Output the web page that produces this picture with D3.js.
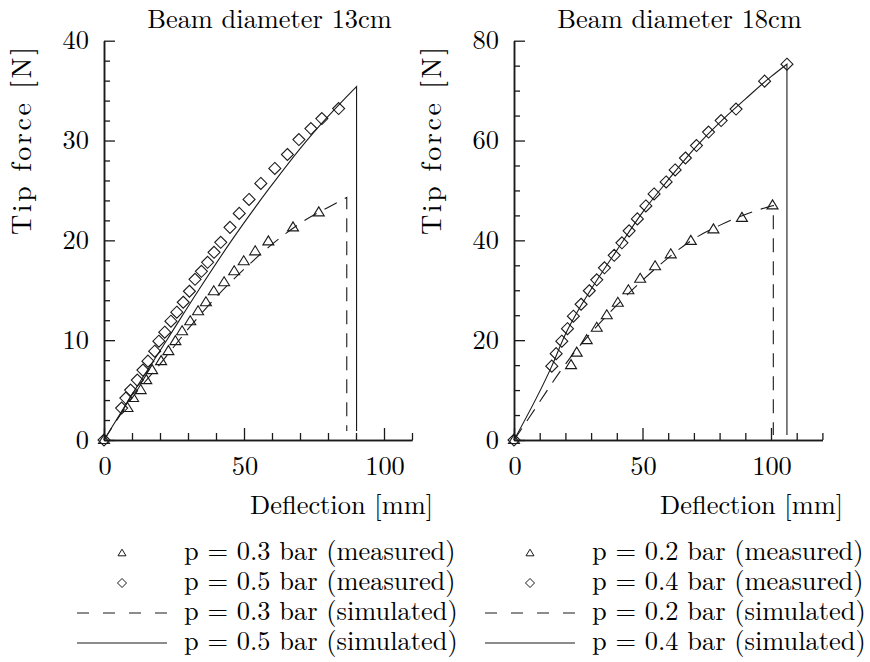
<!DOCTYPE html>
<html>
<head>
<meta charset="utf-8">
<script src="https://cdn.jsdelivr.net/npm/d3@7"></script>
<style>
  html, body { margin: 0; padding: 0; background: #ffffff; }
  svg { display: block; }
</style>
</head>
<body>
<script>
// ---------------- DATA ----------------
const titles = ["Beam diameter 13cm", "Beam diameter 18cm"];
const yLabel = "Tip force [N]";
const xLabel = "Deflection [mm]";

// Tick values
const xTicksMajor13 = [0, 50, 100];
const xTicksMinor13 = [10, 20, 30, 40, 60, 70, 80, 90, 110];
const yTicksMajor13 = [0, 10, 20, 30, 40];
const yTicksMinor13 = [2, 4, 6, 8, 12, 14, 16, 18, 22, 24, 26, 28, 32, 34, 36, 38];
const xTicksMajor18 = [0, 50, 100];
const xTicksMinor18 = [10, 20, 30, 40, 60, 70, 80, 90, 110, 120];
const yTicksMajor18 = [0, 20, 40, 60, 80];
const yTicksMinor18 = [5, 10, 15, 25, 30, 35, 45, 50, 55, 65, 70, 75];

// 13 cm beam: p = 0.3 bar measured (triangles)
const tri13X = [0, 8.4, 10.4, 13.1, 15.1, 17.2, 20.4, 23.0, 25.5, 27.9, 30.8, 33.6, 36.4, 39.2, 42.9, 46.5, 49.9, 54.0, 58.7, 67.5, 76.7];
const tri13Y = [0, 3.2, 4.2, 5.0, 6.0, 7.0, 7.9, 8.9, 9.9, 10.9, 11.9, 12.9, 13.8, 14.9, 15.8, 16.9, 17.9, 18.9, 19.9, 21.3, 22.8];
// 13 cm beam: p = 0.5 bar measured (diamonds)
const dia13X = [0, 6.3, 7.8, 9.5, 11.9, 13.9, 15.7, 18.1, 19.6, 21.7, 23.9, 26.0, 28.3, 30.5, 32.5, 34.8, 37.0, 39.3, 41.7, 45.0, 48.3, 51.8, 56.0, 61.0, 65.5, 69.6, 73.9, 77.8, 83.8];
const dia13Y = [0, 3.2, 4.2, 5.0, 6.0, 7.0, 7.9, 8.9, 9.9, 10.8, 11.9, 12.8, 13.8, 14.9, 16.1, 16.9, 17.8, 18.8, 19.8, 21.3, 22.7, 24.1, 25.7, 27.2, 28.6, 30.1, 31.2, 32.2, 33.2];
// 13 cm beam: p = 0.3 bar simulated (dashed)
const sim03X = [0, 10, 20, 30, 40, 50, 60, 70, 80, 86.7];
const sim03Y = [0, 4.2, 7.6, 11.1, 14.3, 17.1, 19.6, 21.7, 23.3, 24.3];
const sim03EndY = 0.9;
// 13 cm beam: p = 0.5 bar simulated (solid)
const sim05X = [0, 11, 22.4, 34, 45.6, 59, 72.4, 86, 90.2];
const sim05Y = [0, 5.0, 10, 15.1, 20, 25.2, 30, 34.2, 35.4];
const sim05EndY = 0.9;

// 18 cm beam: p = 0.2 bar measured (triangles)
const tri18X = [0, 22.2, 24.4, 28.3, 32.2, 36.1, 40.4, 44.5, 49.1, 54.9, 61.0, 68.8, 77.6, 88.7, 100.6];
const tri18Y = [0, 15.0, 17.5, 20.0, 22.5, 25.0, 27.5, 30.0, 32.3, 34.8, 37.2, 39.9, 42.2, 44.5, 47.0];
// 18 cm beam: p = 0.4 bar measured (diamonds)
const dia18X = [0, 14.7, 16.4, 18.6, 20.8, 23.1, 26.1, 29.3, 32.2, 35.2, 39.0, 42.0, 44.8, 48.0, 51.3, 54.5, 59.2, 62.7, 66.7, 71.0, 75.7, 80.6, 86.4, 97.5, 106.2];
const dia18Y = [0, 14.8, 17.3, 19.8, 22.3, 24.8, 27.2, 29.9, 32.1, 34.5, 37.0, 39.5, 41.9, 44.3, 46.9, 49.3, 51.7, 54.1, 56.5, 59.0, 61.7, 64.0, 66.3, 71.9, 75.3];
// 18 cm beam: p = 0.2 bar simulated (dashed)
const sim02X = [0, 6.2, 12.1, 17.9, 25, 30, 40, 50, 60, 70, 80, 90, 100.9];
const sim02Y = [0, 4.7, 9.3, 13.7, 18.5, 21.5, 27.0, 32.0, 36.5, 40.3, 43.0, 45.2, 47.0];
const sim02EndY = 1.0;
// 18 cm beam: p = 0.4 bar simulated (solid)
const sim04X = [0, 14.7, 20, 25, 30, 40, 50, 60, 70, 80, 90, 100, 106.2];
const sim04Y = [0, 14.8, 21.2, 26.0, 30.2, 38.0, 45.6, 52.1, 58.3, 63.6, 68.3, 72.8, 75.3];
const sim04EndY = 1.0;

// Legend labels
const legend13 = ["p = 0.3 bar (measured)", "p = 0.5 bar (measured)", "p = 0.3 bar (simulated)", "p = 0.5 bar (simulated)"];
const legend18 = ["p = 0.2 bar (measured)", "p = 0.4 bar (measured)", "p = 0.2 bar (simulated)", "p = 0.4 bar (simulated)"];

// ---------------- DRAWING ----------------
const W = 870, H = 662;
const svg = d3.select("body").append("svg").attr("width", W).attr("height", H);
const INK = "#1a1a1a";
const FS = 26.4;
const FAMILY = "'Latin Modern Roman', 'Liberation Serif'";

const zip = (xs, ys) => xs.map((v, i) => [v, ys[i]]);

const triPath = "M0,-5.5L5.5,3.5L-5.5,3.5Z";
const diaPath = "M0,-6L6,0L0,6L-6,0Z";
const triSmall = "M0,-3.8L4,2.8L-4,2.8Z";
const diaSmall = "M0,-4.5L4.5,0L0,4.5L-4.5,0Z";

const panels = [
  { title: titles[0], x0: 104, xMax: 110, yMax: 40, xMaj: xTicksMajor13, xMin: xTicksMinor13, yMaj: yTicksMajor13, yMin: yTicksMinor13,
    tri: zip(tri13X, tri13Y), dia: zip(dia13X, dia13Y),
    dashed: zip(sim03X, sim03Y), dashedEnd: sim03EndY, solid: zip(sim05X, sim05Y), solidEnd: sim05EndY,
    legend: legend13, legX: 0 },
  { title: titles[1], x0: 514, xMax: 120, yMax: 80, xMaj: xTicksMajor18, xMin: xTicksMinor18, yMaj: yTicksMajor18, yMin: yTicksMinor18,
    tri: zip(tri18X, tri18Y), dia: zip(dia18X, dia18Y),
    dashed: zip(sim02X, sim02Y), dashedEnd: sim02EndY, solid: zip(sim04X, sim04Y), solidEnd: sim04EndY,
    legend: legend18, legX: 408 }
];

const pxPerMm = [2.8, 2.57];
const yTop = 40.7, yBot = 440;

function txt(sel) { return sel.attr("font-family", FAMILY).attr("font-size", FS).attr("fill", "#000"); }

panels.forEach((p, idx) => {
  const x = d3.scaleLinear().domain([0, p.xMax]).range([p.x0, p.x0 + p.xMax * pxPerMm[idx]]);
  const y = d3.scaleLinear().domain([0, p.yMax]).range([yBot, yTop]);
  const g = svg.append("g");

  const styleAxis = sel => {
    sel.selectAll("path.domain").attr("stroke", INK).attr("stroke-width", 1.5);
    sel.selectAll(".tick line").attr("stroke", INK).attr("stroke-width", 1.3);
    sel.selectAll(".tick text").remove();
  };
  g.append("g").attr("transform", `translate(0,${yBot})`)
    .call(d3.axisBottom(x).tickValues(p.xMaj).tickSizeInner(-12).tickSizeOuter(0)).call(styleAxis);
  g.append("g").attr("transform", `translate(0,${yBot})`)
    .call(d3.axisBottom(x).tickValues(p.xMin).tickSizeInner(-7).tickSizeOuter(0)).call(styleAxis);
  g.append("g").attr("transform", `translate(${p.x0},0)`)
    .call(d3.axisLeft(y).tickValues(p.yMaj).tickSizeInner(-11).tickSizeOuter(0)).call(styleAxis);
  g.append("g").attr("transform", `translate(${p.x0},0)`)
    .call(d3.axisLeft(y).tickValues(p.yMin).tickSizeInner(-6).tickSizeOuter(0)).call(styleAxis);

  // tick labels
  g.selectAll("text.xt").data(p.xMaj).join("text").attr("class", "xt").call(txt)
    .attr("x", d => x(d) + 1).attr("y", 475).attr("text-anchor", "middle").text(d => d);
  g.selectAll("text.yt").data(p.yMaj).join("text").attr("class", "yt").call(txt)
    .attr("x", p.x0 - 15).attr("y", d => y(d) + 8.5).attr("text-anchor", "end").text(d => d);

  // title
  g.append("text").call(txt).attr("x", p.x0 + 165.5).attr("y", 28).attr("text-anchor", "middle").text(p.title);
  // y label
  g.append("text").call(txt).attr("font-size", 28).attr("transform", `translate(${p.x0 - 73},141) rotate(-90)`)
    .attr("text-anchor", "middle").attr("textLength", 188).attr("lengthAdjust", "spacing").text(yLabel);
  // x label
  g.append("text").call(txt).attr("x", p.x0 + 329).attr("y", 514).attr("text-anchor", "end").text(xLabel);

  // simulated curves
  const line = d3.line().x(d => x(d[0])).y(d => y(d[1])).curve(d3.curveMonotoneX);
  const dEnd = p.dashed[p.dashed.length - 1];
  const sEnd = p.solid[p.solid.length - 1];
  g.append("path").attr("d", line(p.dashed) + `L${x(dEnd[0])},${y(p.dashedEnd)}`)
    .attr("fill", "none").attr("stroke", INK).attr("stroke-width", 1.1).attr("stroke-dasharray", "14,9");
  g.append("path").attr("d", line(p.solid) + `L${x(sEnd[0])},${y(p.solidEnd)}`)
    .attr("fill", "none").attr("stroke", INK).attr("stroke-width", 1.1);

  // measured markers
  g.selectAll("path.tri").data(p.tri).join("path").attr("class", "tri")
    .attr("transform", d => `translate(${x(d[0])},${y(d[1])})`).attr("d", triPath)
    .attr("fill", "none").attr("stroke", INK).attr("stroke-width", 1.1);
  g.selectAll("path.dia").data(p.dia).join("path").attr("class", "dia")
    .attr("transform", d => `translate(${x(d[0])},${y(d[1])})`).attr("d", diaPath)
    .attr("fill", "none").attr("stroke", INK).attr("stroke-width", 1.1);

  // legend
  const lg = svg.append("g").attr("transform", `translate(${p.legX},0)`);
  const rows = [560, 590, 620, 650];
  lg.append("path").attr("transform", `translate(122,${rows[0] - 7})`).attr("d", triSmall)
    .attr("fill", "none").attr("stroke", INK).attr("stroke-width", 1);
  lg.append("path").attr("transform", `translate(122,${rows[1] - 7})`).attr("d", diaSmall)
    .attr("fill", "none").attr("stroke", INK).attr("stroke-width", 1);
  lg.append("line").attr("x1", 77).attr("x2", 167).attr("y1", rows[2] - 7).attr("y2", rows[2] - 7)
    .attr("stroke", INK).attr("stroke-width", 1.1).attr("stroke-dasharray", "12,14");
  lg.append("line").attr("x1", 77).attr("x2", 167).attr("y1", rows[3] - 7).attr("y2", rows[3] - 7)
    .attr("stroke", INK).attr("stroke-width", 1.1);
  lg.selectAll("text").data(p.legend).join("text").call(txt)
    .attr("x", 184).attr("y", (d, i) => rows[i]).text(d => d);
});
</script>
</body>
</html>
